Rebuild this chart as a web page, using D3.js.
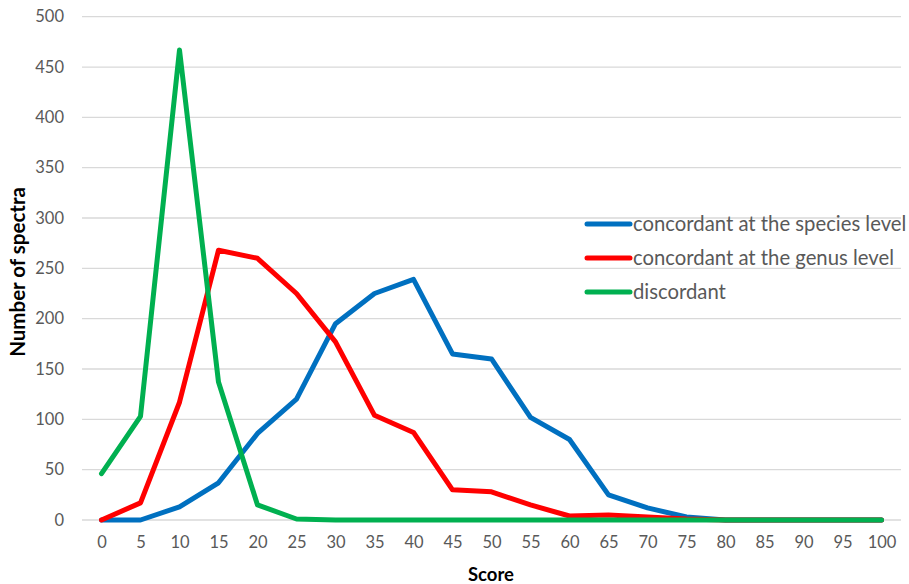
<!DOCTYPE html>
<html><head><meta charset="utf-8">
<script src="https://cdn.jsdelivr.net/npm/d3@7"></script>
<style>body{margin:0;background:#fff}svg{display:block}</style>
</head><body>
<svg id="c" width="909" height="584"></svg>
<script>
const scores = [0,5,10,15,20,25,30,35,40,45,50,55,60,65,70,75,80,85,90,95,100];
const species = [0,0,13,37,86,120,195,225,239,165,160,102,80,25,12,3,0,0,0,0,0];
const genus = [0,17,117,268,260,225,177,104,87,30,28,15,4,5,3,1,0,0,0,0,0];
const discordant = [46,103,467,137,15,1,0,0,0,0,0,0,0,0,0,0,0,0,0,0,0];
const seriesNames = ["concordant at the species level","concordant at the genus level","discordant"];
const seriesColors = ["#0070C0","#FF0000","#00B050"];
const yTicks = [0,50,100,150,200,250,300,350,400,450,500];

const svg = d3.select("#c");
const font = "Lato, 'Open Sans', sans-serif";
const x = d3.scalePoint().domain(scores).range([101.5, 881.5]);
const y = d3.scaleLinear().domain([0,500]).range([520,16.7]);

// gridlines
svg.append("g").selectAll("line").data(yTicks).join("line")
  .attr("x1",82).attr("x2",901)
  .attr("y1",d=>y(d)).attr("y2",d=>y(d))
  .attr("stroke","#d9d9d9").attr("stroke-width",1.3);

// y axis labels
const ya = svg.append("g").attr("transform","translate(64,0)")
  .call(d3.axisLeft(y).tickValues(yTicks).tickSize(0).tickPadding(0));
ya.select(".domain").remove();
ya.selectAll("text").attr("font-family",font).attr("font-size",16.5).attr("fill","#595959");

// x axis labels
const xa = svg.append("g").attr("transform","translate(0,536)")
  .call(d3.axisBottom(x).tickSize(0).tickPadding(0));
xa.select(".domain").remove();
xa.selectAll("text").attr("font-family",font).attr("font-size",16.5).attr("fill","#595959");

// lines
const data = [species, genus, discordant];
const line = d3.line().x((d,i)=>x(scores[i])).y(d=>y(d));
svg.append("g").selectAll("path").data(data).join("path")
  .attr("d",line).attr("fill","none")
  .attr("stroke",(d,i)=>seriesColors[i]).attr("stroke-width",5)
  .attr("stroke-linejoin","round").attr("stroke-linecap","round");

// legend
const lg = svg.append("g").selectAll("g").data(seriesNames).join("g")
  .attr("transform",(d,i)=>`translate(587,${224+i*34})`);
lg.append("line").attr("x1",0).attr("x2",43).attr("y1",0).attr("y2",0)
  .attr("stroke",(d,i)=>seriesColors[i]).attr("stroke-width",5).attr("stroke-linecap","round");
lg.append("text").attr("x",46).attr("y",0).attr("dy","0.35em")
  .attr("font-family",font).attr("font-size",20.3).attr("fill","#595959").text(d=>d);

// axis titles
svg.append("text").attr("transform","translate(25,272) rotate(-90)")
  .attr("text-anchor","middle").attr("font-family",font).attr("font-weight","bold")
  .attr("font-size",20.5).attr("fill","#000").text("Number of spectra");
svg.append("text").attr("x",491).attr("y",581)
  .attr("text-anchor","middle").attr("font-family",font).attr("font-weight","bold")
  .attr("font-size",18.5).attr("fill","#000").text("Score");
</script>
</body></html>
